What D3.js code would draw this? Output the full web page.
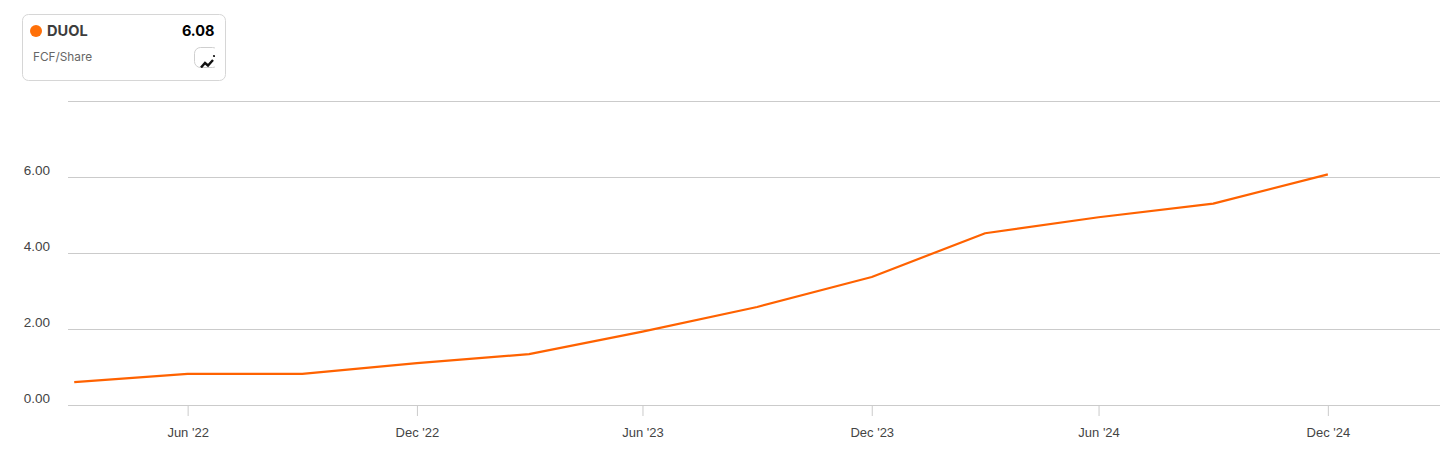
<!DOCTYPE html>
<html><head><meta charset="utf-8">
<script src="https://cdn.jsdelivr.net/npm/d3@7"></script>
<style>
html,body{margin:0;padding:0;background:#fff;}
svg{display:block;font-family:"Inter","Liberation Sans",sans-serif;}
</style></head><body><div id="c"></div>
<script>
const ticker = "DUOL";
const metric = "FCF/Share";
const latest = "6.08";
const dates = ["2022-03-31","2022-06-30","2022-09-30","2022-12-31","2023-03-31","2023-06-30","2023-09-30","2023-12-31","2024-03-31","2024-06-30","2024-09-30","2024-12-31"];
const values = [0.6,0.82,0.82,1.1,1.34,1.93,2.58,3.37,4.52,4.94,5.3,6.07];
const yTicks = [0,2,4,6,8];
const yLabels = ["0.00","2.00","4.00","6.00",""];
const xTicks = ["2022-06-30","2022-12-31","2023-06-30","2023-12-31","2024-06-30","2024-12-31"];
const xLabels = ["Jun '22","Dec '22","Jun '23","Dec '23","Jun '24","Dec '24"];

const parse = d3.utcParse("%Y-%m-%d");
const svg = d3.select("#c").append("svg").attr("width",1456).attr("height",459);
const orange = "#ff6200", grid = "#cbcbcb", label = "#444";

const x = d3.scaleUtc().domain([parse("2022-03-26"),parse("2025-03-31")]).range([68,1440]);
const y = d3.scaleLinear().domain([0,8]).range([405,101]);

const yAxis = svg.append("g").attr("transform","translate(68,0)")
  .call(d3.axisLeft(y).tickValues(yTicks).tickSize(-1372).tickFormat((d,i)=>yLabels[i]));
yAxis.select(".domain").remove();
yAxis.selectAll(".tick line").attr("stroke",grid).attr("stroke-width",1);
yAxis.selectAll(".tick text").attr("x",-18).attr("dy",-3).attr("fill",label)
  .style("font-size","13.5px").style("font-family","inherit");

const xAxis = svg.append("g").attr("transform","translate(0,405)")
  .call(d3.axisBottom(x).tickValues(xTicks.map(parse)).tickSize(11).tickPadding(12).tickFormat((d,i)=>xLabels[i]));
xAxis.select(".domain").remove();
xAxis.selectAll(".tick line").attr("stroke",grid).attr("stroke-width",1);
xAxis.selectAll(".tick text").attr("fill",label)
  .style("font-size","13px").style("font-family","inherit");

const line = d3.line().x((d,i)=>x(parse(dates[i]))).y(d=>y(d));
svg.append("path").datum(values).attr("d",line).attr("fill","none")
  .attr("stroke",orange).attr("stroke-width",2.2).attr("stroke-linejoin","round");

// legend card
const card = svg.append("g");
card.append("rect").attr("x",22.5).attr("y",14.5).attr("width",203).attr("height",66).attr("rx",6)
  .attr("fill","#fff").attr("stroke","#d6d6d6");
card.append("circle").attr("cx",36).attr("cy",31).attr("r",6).attr("fill","#ff7008");
card.append("text").attr("x",47).attr("y",36).text(ticker)
  .attr("fill","#3d3d3d").style("font-size","14.6px").style("font-weight",700);
card.append("text").attr("x",214.5).attr("y",36).attr("text-anchor","end").text(latest)
  .attr("fill","#000").style("font-size","14.5px").style("font-weight",700);
card.append("text").attr("x",33).attr("y",61).text(metric)
  .attr("fill","#666").style("font-size","11.8px");
// icon
const clip = svg.append("defs").append("clipPath").attr("id","ic");
clip.append("rect").attr("x",194).attr("y",47).attr("width",21).attr("height",21);
const icon = card.append("g").attr("clip-path","url(#ic)");
icon.append("rect").attr("x",194.5).attr("y",47.5).attr("width",24).attr("height",20).attr("rx",6)
  .attr("fill","#fff").attr("stroke","#cfcfcf");
icon.append("path").attr("d","M201 67.5 L205 63 L208 65.5 L213 60").attr("fill","none")
  .attr("stroke","#111").attr("stroke-width",2.4);
icon.append("circle").attr("cx",214).attr("cy",56).attr("r",1.1).attr("fill","#111");
</script></body></html>
